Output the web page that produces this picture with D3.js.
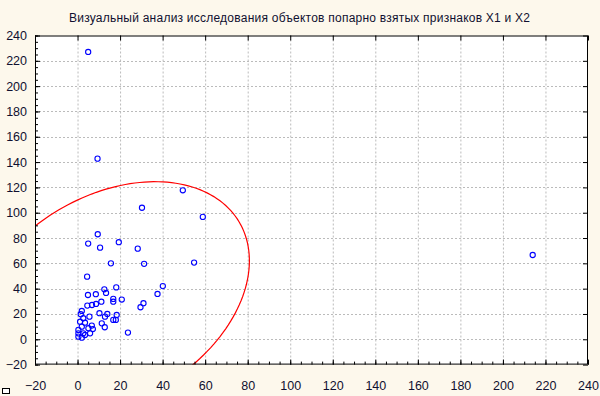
<!DOCTYPE html>
<html>
<head>
<meta charset="utf-8">
<script src="https://cdn.jsdelivr.net/npm/d3@7"></script>
<style>
  body { margin: 0; background: #fdf8ec; }
  svg { display: block; font-family: "Liberation Sans", Arial, sans-serif; }
</style>
</head>
<body>
<div class="canvas"></div>
<script>
// data: X1 / X2 per object
const x1 = [5, 9.4, 30.3, 49.5, 58.9, 9.5, 5, 10.6, 19.4, 28.3, 15.7, 31.3, 54.8, 4.5, 18.2,
  12.6, 40.1, 37.6, 13.4, 4.9, 8.6, 16.8, 16.8, 20.8, 31, 29.6, 4.6, 6.8, 8.7, 11.2,
  2, 1.5, 5.6, 10.3, 12.9, 14, 16.8, 18, 18.4, 11.4, 12.8, 2.7, 1.2, 3.5, 6.7,
  2, 5.1, 0.4, 0.4, 0.4, 2.7, 3.5, 5.9, 7.2, 2, 23.7, 214];
const x2 = [227, 142.7, 103.9, 117.7, 96.7, 83, 75.6, 72.4, 76.7, 71.6, 60, 59.6, 60.6, 49.5, 41,
  39.5, 42, 35.8, 36.6, 35, 35.6, 31.9, 29.7, 31.4, 28.5, 25.3, 26.6, 27.1, 27.9, 29.7,
  22.4, 19.8, 17.9, 20.6, 17.9, 20, 15.3, 15.3, 19.2, 12.6, 9.5, 16.6, 13.9, 13.1, 10.8,
  10, 8.7, 7.4, 4.7, 2.1, 4.7, 3.4, 4.7, 8.1, 1.3, 5.3, 66.6];

// ellipse parameters: centre, spreads, correlation
const ellCentre = [15.65, 32.6];
const ellSpread = [65.15, 91.9];
const ellCorr = 0.32;

const tickValues = d3.range(-20, 241, 20);
const title = 'Визуальный анализ исследования объектов  попарно взятых признаков  X1 и X2';

const width = 600;
const height = 396;
const plot = { left: 35, right: 588, top: 35.5, bottom: 364.6 };

const svg = d3.select('.canvas').append('svg')
  .attr('width', width)
  .attr('height', height);

svg.append('rect').attr('width', width).attr('height', height).attr('fill', '#fdf8ec');

const x = d3.scaleLinear().domain([-20, 240]).range([plot.left, plot.right]);
const y = d3.scaleLinear().domain([-20, 240]).range([plot.bottom, plot.top]);

// plot background
svg.append('rect')
  .attr('x', plot.left).attr('y', plot.top)
  .attr('width', plot.right - plot.left).attr('height', plot.bottom - plot.top)
  .attr('fill', '#fff');

// grid
const grid = svg.append('g').attr('stroke', '#bbb').attr('stroke-dasharray', '2,2');
grid.selectAll('.gx').data(tickValues.slice(1, -1)).enter().append('line')
  .attr('x1', d => x(d) + 0.5).attr('x2', d => x(d) + 0.5)
  .attr('y1', plot.top).attr('y2', plot.bottom);
grid.selectAll('.gy').data(tickValues.slice(1, -1)).enter().append('line')
  .attr('y1', d => Math.round(y(d)) + 0.5).attr('y2', d => Math.round(y(d)) + 0.5)
  .attr('x1', plot.left).attr('x2', plot.right);

// clip for ellipse
svg.append('clipPath').attr('id', 'clip').append('rect')
  .attr('x', plot.left).attr('y', plot.top)
  .attr('width', plot.right - plot.left).attr('height', plot.bottom - plot.top);

const alpha = Math.acos(ellCorr);
const ellipse = d3.range(0, 361, 2).map(a => {
  const t = a * Math.PI / 180;
  return [ellCentre[0] + ellSpread[0] * Math.cos(t), ellCentre[1] + ellSpread[1] * Math.cos(t - alpha)];
});
svg.append('path')
  .datum(ellipse)
  .attr('clip-path', 'url(#clip)')
  .attr('fill', 'none')
  .attr('stroke', '#f00')
  .attr('stroke-width', 1.2)
  .attr('d', d3.line().x(d => x(d[0])).y(d => y(d[1])).curve(d3.curveLinearClosed));

// points
svg.append('g').selectAll('circle')
  .data(x1.map((v, i) => [v, x2[i]]))
  .enter().append('circle')
  .attr('cx', d => x(d[0]))
  .attr('cy', d => y(d[1]))
  .attr('r', 2.6)
  .attr('fill', 'none')
  .attr('stroke', '#00f')
  .attr('stroke-width', 1.1);

// frame
svg.append('rect')
  .attr('x', plot.left + 0.5).attr('y', plot.top + 0.5)
  .attr('width', plot.right - plot.left - 1).attr('height', plot.bottom - plot.top - 1)
  .attr('fill', 'none').attr('stroke', '#000');

// axes
const minor = d3.range(-20, 241, 5);
const styleAxis = g => {
  g.select('.domain').remove();
  g.selectAll('line').attr('stroke', '#000');
  g.selectAll('text').attr('fill', '#101030').style('font-size', '12.5px');
};

svg.append('g').attr('transform', `translate(0,${plot.bottom})`)
  .call(d3.axisBottom(x).tickValues(minor).tickSizeInner(-3).tickFormat(''))
  .call(styleAxis);
svg.append('g').attr('transform', `translate(0,${plot.bottom})`)
  .call(d3.axisBottom(x).tickValues(tickValues).tickSizeInner(-5).tickPadding(17))
  .call(styleAxis);
svg.append('g').attr('transform', `translate(${plot.left},0)`)
  .call(d3.axisLeft(y).tickValues(minor).tickSizeInner(-3).tickFormat(''))
  .call(styleAxis);
svg.append('g').attr('transform', `translate(${plot.left},0)`)
  .call(d3.axisLeft(y).tickValues(tickValues).tickSizeInner(-5).tickPadding(8))
  .call(styleAxis);
svg.append('g').attr('transform', `translate(0,${plot.top})`)
  .call(d3.axisTop(x).tickValues(tickValues).tickSizeInner(-5).tickFormat(''))
  .call(styleAxis);
svg.append('g').attr('transform', `translate(${plot.right},0)`)
  .call(d3.axisRight(y).tickValues(tickValues).tickSizeInner(-5).tickFormat(''))
  .call(styleAxis);

// title
svg.append('text')
  .attr('x', 299.5).attr('y', 22)
  .attr('text-anchor', 'middle')
  .attr('textLength', 461)
  .attr('lengthAdjust', 'spacing')
  .style('font-size', '12px')
  .attr('fill', '#101030')
  .text(title);

// small marker box bottom-left
svg.append('rect')
  .attr('x', 2.5).attr('y', 388.5).attr('width', 7).attr('height', 5)
  .attr('fill', '#fff').attr('stroke', '#000');
</script>
</body>
</html>
